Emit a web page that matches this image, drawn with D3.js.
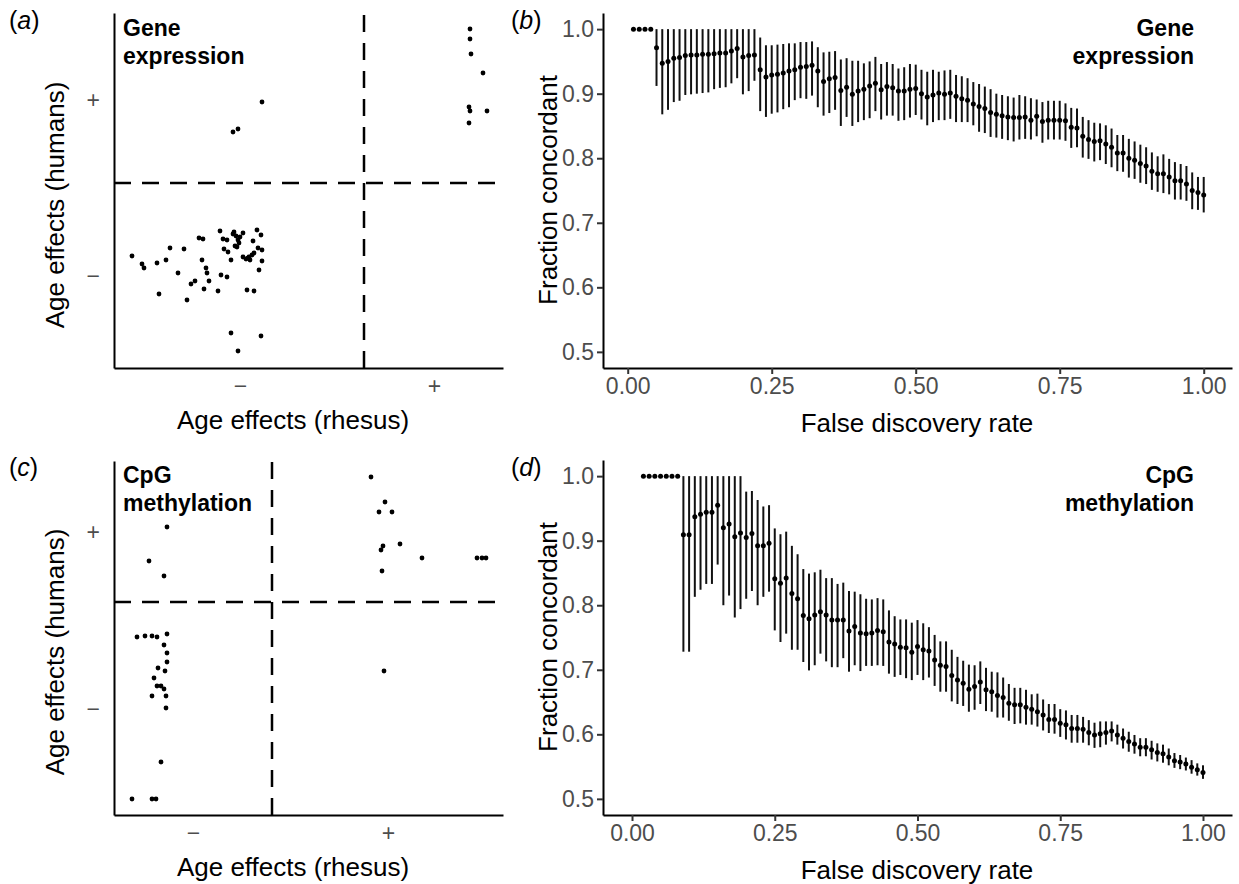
<!DOCTYPE html>
<html>
<head>
<meta charset="utf-8">
<script src="https://cdn.jsdelivr.net/npm/d3@7"></script>
<style>
  body { margin: 0; background: #fff; }
  svg { display: block; font-family: "Liberation Sans", Arial, sans-serif; }
  .tick text { fill: #4d4d4d; font-size: 23px; }
</style>
</head>
<body>
<div id="chart"></div>
<script>
// ---- data ----
var signLabels = ["\u2212", "+"];

// (a) gene expression: age effects in rhesus (x) vs humans (y)
var rhesusA = [1.06, 1.06, 1.07, 1.19, 1.05, 1.06, 1.23, 1.05,
  -1.02, -1.31, -1.26,
  -2.32, -2.22, -2.20, -2.07, -2.05, -1.98, -1.94, -1.86, -1.80, -1.77,
  -1.73, -1.69, -1.65, -1.61, -1.62, -1.60, -1.58, -1.57, -1.55, -1.46,
  -1.44, -1.43, -1.41, -1.40, -1.37, -1.37, -1.36, -1.33, -1.31, -1.29,
  -1.28, -1.27, -1.26, -1.24, -1.21, -1.21, -1.18, -1.17, -1.16, -1.14,
  -1.12, -1.11, -1.10, -1.10, -1.07, -1.06, -1.05, -1.03, -1.02, -1.02,
  -1.33, -1.03, -1.26, -1.25, -1.15, -1.30];
var humansA = [1.54, 1.44, 1.29, 1.10, 0.76, 0.72, 0.72, 0.60,
  0.81, 0.51, 0.54,
  -0.73, -0.81, -0.85, -0.80, -1.11, -0.77, -0.65, -0.90, -0.66, -1.17,
  -1.01, -0.98, -0.55, -0.56, -0.77, -1.06, -0.85, -0.90, -0.98, -1.08,
  -0.48, -0.92, -0.56, -0.66, -0.94, -0.57, -0.69, -0.77, -0.51, -0.63,
  -0.53, -0.64, -0.57, -0.54, -0.50, -0.74, -0.76, -1.07, -0.75, -0.77,
  -0.72, -0.58, -1.08, -0.70, -0.47, -0.65, -0.87, -0.52, -0.67, -0.78,
  -1.50, -1.53, -1.68, -0.60, -0.74, -0.49];
var xTicksA = [-1.24, 0.70];
var yTicksA = [-0.93, 0.83];

// (c) CpG methylation
var rhesusC = [0.99, 1.13, 1.07, 1.20, 1.11, 1.09, 1.28, 1.50, 2.05, 2.10, 2.14, 1.10,
  1.12,
  -1.05, -1.23, -1.08,
  -1.35, -1.27, -1.20, -1.15, -1.05, -1.08, -1.05, -1.05, -1.14, -1.07,
  -1.18, -1.15, -1.11, -1.08, -1.20, -1.06, -1.06, -1.11, -1.40, -1.20, -1.16];
var humansC = [1.25, 1.00, 0.90, 0.90, 0.56, 0.52, 0.58, 0.44, 0.44, 0.44, 0.44, 0.31,
  -0.69,
  0.75, 0.41, 0.26,
  -0.35, -0.34, -0.34, -0.35, -0.32, -0.43, -0.51, -0.60, -0.66, -0.69,
  -0.76, -0.84, -0.84, -0.87, -0.94, -0.94, -1.06, -1.60, -1.97, -1.97, -1.97];
var xTicksC = [-0.79, 1.16];
var yTicksC = [-1.07, 0.70];

// (b) gene expression: fraction concordant by FDR threshold
var fdrB = [0.01, 0.02, 0.03, 0.04, 0.05, 0.06, 0.07, 0.08, 0.09, 0.10,
  0.11, 0.12, 0.13, 0.14, 0.15, 0.16, 0.17, 0.18, 0.19, 0.20,
  0.21, 0.22, 0.23, 0.24, 0.25, 0.26, 0.27, 0.28, 0.29, 0.30,
  0.31, 0.32, 0.33, 0.34, 0.35, 0.36, 0.37, 0.38, 0.39, 0.40,
  0.41, 0.42, 0.43, 0.44, 0.45, 0.46, 0.47, 0.48, 0.49, 0.50,
  0.51, 0.52, 0.53, 0.54, 0.55, 0.56, 0.57, 0.58, 0.59, 0.60,
  0.61, 0.62, 0.63, 0.64, 0.65, 0.66, 0.67, 0.68, 0.69, 0.70,
  0.71, 0.72, 0.73, 0.74, 0.75, 0.76, 0.77, 0.78, 0.79, 0.80,
  0.81, 0.82, 0.83, 0.84, 0.85, 0.86, 0.87, 0.88, 0.89, 0.90,
  0.91, 0.92, 0.93, 0.94, 0.95, 0.96, 0.97, 0.98, 0.99, 1.00];
var fracB = [1.000, 1.000, 1.000, 1.000, 0.971, 0.947, 0.950, 0.955, 0.956, 0.959,
  0.960, 0.960, 0.961, 0.961, 0.962, 0.963, 0.963, 0.966, 0.970, 0.957,
  0.959, 0.960, 0.937, 0.926, 0.929, 0.930, 0.932, 0.935, 0.937, 0.941,
  0.942, 0.944, 0.935, 0.919, 0.923, 0.925, 0.905, 0.910, 0.899, 0.904,
  0.907, 0.912, 0.916, 0.906, 0.911, 0.909, 0.904, 0.904, 0.907, 0.908,
  0.900, 0.895, 0.898, 0.901, 0.899, 0.901, 0.896, 0.892, 0.890, 0.884,
  0.880, 0.877, 0.871, 0.868, 0.866, 0.864, 0.863, 0.863, 0.864, 0.859,
  0.865, 0.857, 0.859, 0.859, 0.859, 0.858, 0.848, 0.847, 0.834, 0.829,
  0.826, 0.827, 0.822, 0.817, 0.808, 0.808, 0.800, 0.797, 0.792, 0.788,
  0.780, 0.776, 0.776, 0.771, 0.765, 0.765, 0.760, 0.750, 0.747, 0.743];
var loB = [1.000, 1.000, 1.000, 1.000, 0.912, 0.868, 0.875, 0.887, 0.889, 0.898,
  0.899, 0.900, 0.901, 0.902, 0.907, 0.909, 0.910, 0.916, 0.924, 0.899,
  0.904, 0.920, 0.873, 0.864, 0.869, 0.871, 0.876, 0.879, 0.890, 0.893,
  0.892, 0.897, 0.879, 0.866, 0.870, 0.875, 0.850, 0.864, 0.850, 0.856,
  0.859, 0.862, 0.873, 0.860, 0.866, 0.866, 0.858, 0.859, 0.863, 0.867,
  0.860, 0.851, 0.856, 0.859, 0.859, 0.861, 0.856, 0.856, 0.856, 0.851,
  0.841, 0.839, 0.833, 0.832, 0.830, 0.828, 0.826, 0.829, 0.830, 0.829,
  0.834, 0.824, 0.829, 0.829, 0.829, 0.827, 0.816, 0.817, 0.801, 0.799,
  0.795, 0.797, 0.791, 0.786, 0.780, 0.779, 0.770, 0.768, 0.762, 0.760,
  0.751, 0.748, 0.746, 0.744, 0.736, 0.736, 0.734, 0.721, 0.720, 0.716];
var hiB = [1.000, 1.000, 1.000, 1.000, 1.000, 1.000, 1.000, 1.000, 1.000, 1.000,
  1.000, 1.000, 1.000, 1.000, 1.000, 1.000, 1.000, 1.000, 1.000, 1.000,
  1.000, 1.000, 0.987, 0.975, 0.975, 0.976, 0.977, 0.978, 0.978, 0.980,
  0.980, 0.981, 0.972, 0.964, 0.965, 0.966, 0.953, 0.955, 0.951, 0.951,
  0.947, 0.950, 0.957, 0.946, 0.949, 0.946, 0.939, 0.941, 0.946, 0.945,
  0.937, 0.934, 0.937, 0.934, 0.936, 0.937, 0.929, 0.927, 0.924, 0.918,
  0.915, 0.911, 0.907, 0.900, 0.898, 0.896, 0.894, 0.898, 0.896, 0.893,
  0.891, 0.887, 0.889, 0.889, 0.889, 0.885, 0.878, 0.877, 0.864, 0.859,
  0.855, 0.854, 0.851, 0.846, 0.836, 0.836, 0.830, 0.826, 0.821, 0.817,
  0.809, 0.803, 0.806, 0.799, 0.794, 0.791, 0.788, 0.778, 0.771, 0.771];

// (d) CpG methylation: fraction concordant by FDR threshold
var fdrD = [0.02, 0.03, 0.04, 0.05, 0.06, 0.07, 0.08, 0.09, 0.10,
  0.11, 0.12, 0.13, 0.14, 0.15, 0.16, 0.17, 0.18, 0.19, 0.20,
  0.21, 0.22, 0.23, 0.24, 0.25, 0.26, 0.27, 0.28, 0.29, 0.30,
  0.31, 0.32, 0.33, 0.34, 0.35, 0.36, 0.37, 0.38, 0.39, 0.40,
  0.41, 0.42, 0.43, 0.44, 0.45, 0.46, 0.47, 0.48, 0.49, 0.50,
  0.51, 0.52, 0.53, 0.54, 0.55, 0.56, 0.57, 0.58, 0.59, 0.60,
  0.61, 0.62, 0.63, 0.64, 0.65, 0.66, 0.67, 0.68, 0.69, 0.70,
  0.71, 0.72, 0.73, 0.74, 0.75, 0.76, 0.77, 0.78, 0.79, 0.80,
  0.81, 0.82, 0.83, 0.84, 0.85, 0.86, 0.87, 0.88, 0.89, 0.90,
  0.91, 0.92, 0.93, 0.94, 0.95, 0.96, 0.97, 0.98, 0.99, 1.00];
var fracD = [1.000, 1.000, 1.000, 1.000, 1.000, 1.000, 1.000, 0.909, 0.909,
  0.937, 0.941, 0.944, 0.944, 0.955, 0.920, 0.926, 0.906, 0.912, 0.905,
  0.911, 0.892, 0.892, 0.896, 0.841, 0.834, 0.842, 0.818, 0.810, 0.784,
  0.779, 0.785, 0.790, 0.785, 0.777, 0.777, 0.777, 0.760, 0.767, 0.757,
  0.756, 0.757, 0.761, 0.759, 0.743, 0.740, 0.735, 0.734, 0.727, 0.736,
  0.731, 0.729, 0.715, 0.707, 0.705, 0.691, 0.684, 0.679, 0.670, 0.674,
  0.681, 0.669, 0.666, 0.660, 0.657, 0.648, 0.646, 0.646, 0.642, 0.639,
  0.635, 0.630, 0.623, 0.623, 0.617, 0.615, 0.609, 0.609, 0.608, 0.603,
  0.599, 0.601, 0.603, 0.605, 0.599, 0.594, 0.589, 0.585, 0.580, 0.580,
  0.576, 0.572, 0.570, 0.565, 0.559, 0.557, 0.554, 0.549, 0.545, 0.541];
var loD = [1.000, 1.000, 1.000, 1.000, 1.000, 1.000, 1.000, 0.728, 0.728,
  0.813, 0.824, 0.833, 0.833, 0.863, 0.800, 0.815, 0.781, 0.794, 0.810,
  0.822, 0.800, 0.813, 0.821, 0.761, 0.743, 0.756, 0.731, 0.731, 0.712,
  0.699, 0.707, 0.725, 0.713, 0.704, 0.704, 0.718, 0.697, 0.707, 0.698,
  0.706, 0.706, 0.707, 0.706, 0.694, 0.689, 0.692, 0.687, 0.684, 0.692,
  0.684, 0.688, 0.675, 0.666, 0.666, 0.651, 0.647, 0.644, 0.635, 0.638,
  0.647, 0.636, 0.635, 0.626, 0.626, 0.621, 0.616, 0.617, 0.615, 0.615,
  0.612, 0.606, 0.602, 0.601, 0.596, 0.592, 0.587, 0.587, 0.587, 0.583,
  0.579, 0.580, 0.584, 0.589, 0.584, 0.578, 0.573, 0.570, 0.566, 0.566,
  0.561, 0.558, 0.556, 0.552, 0.548, 0.546, 0.544, 0.539, 0.536, 0.531];
var hiD = [1.000, 1.000, 1.000, 1.000, 1.000, 1.000, 1.000, 1.000, 1.000,
  1.000, 1.000, 1.000, 1.000, 1.000, 1.000, 1.000, 1.000, 1.000, 0.976,
  0.977, 0.963, 0.953, 0.955, 0.919, 0.910, 0.914, 0.892, 0.879, 0.856,
  0.849, 0.851, 0.855, 0.842, 0.842, 0.833, 0.835, 0.822, 0.821, 0.817,
  0.810, 0.809, 0.811, 0.809, 0.792, 0.783, 0.778, 0.778, 0.773, 0.777,
  0.772, 0.766, 0.754, 0.744, 0.744, 0.731, 0.720, 0.714, 0.708, 0.707,
  0.713, 0.703, 0.697, 0.696, 0.688, 0.678, 0.672, 0.672, 0.669, 0.662,
  0.663, 0.654, 0.647, 0.647, 0.639, 0.637, 0.630, 0.630, 0.627, 0.622,
  0.618, 0.620, 0.620, 0.620, 0.615, 0.609, 0.604, 0.599, 0.594, 0.594,
  0.590, 0.586, 0.584, 0.578, 0.571, 0.568, 0.564, 0.560, 0.555, 0.552];

var fracTicks = [0.5, 0.6, 0.7, 0.8, 0.9, 1.0];
var fdrTicks = [0, 0.25, 0.5, 0.75, 1];

// ---- layout ----
var width = 1239, height = 884;
var svg = d3.select("#chart").append("svg")
  .attr("width", width)
  .attr("height", height);

function styleAxis(g) {
  g.select(".domain").attr("stroke", "#000").attr("stroke-width", 2);
  g.selectAll(".tick line").attr("stroke", "#333").attr("stroke-width", 2);
}

function panelTag(x, y, letter) {
  var t = svg.append("text")
    .attr("x", x).attr("y", y)
    .style("font-size", "25px");
  t.append("tspan").text("(");
  t.append("tspan").style("font-style", "italic").text(letter);
  t.append("tspan").text(")");
}

function panelTitle(x, y, lines, anchor) {
  var t = svg.append("text")
    .attr("text-anchor", anchor)
    .style("font-size", "23px")
    .style("font-weight", "bold");
  lines.forEach(function(s, i) {
    t.append("tspan").attr("x", x).attr("y", y + i * 28).text(s);
  });
}

function axisTitle(x, y, txt, rotate) {
  svg.append("text")
    .attr("transform", "translate(" + x + "," + y + ")" + (rotate ? " rotate(-90)" : ""))
    .attr("text-anchor", "middle")
    .style("font-size", "26px")
    .text(txt);
}

// scatter of age effects with sign quadrants
function drawScatter(box, xDom, yDom, xs, ys, xTicks, yTicks) {
  var x = d3.scaleLinear().domain(xDom).range([box.left, box.right]);
  var y = d3.scaleLinear().domain(yDom).range([box.bottom, box.top]);

  // quadrant lines at zero
  svg.append("line")
    .attr("x1", box.left).attr("x2", box.right)
    .attr("y1", y(0)).attr("y2", y(0))
    .attr("stroke", "#000").attr("stroke-width", 2.5)
    .attr("stroke-dasharray", "17,11");
  svg.append("line")
    .attr("x1", x(0)).attr("x2", x(0))
    .attr("y1", box.bottom).attr("y2", box.top)
    .attr("stroke", "#000").attr("stroke-width", 2.5)
    .attr("stroke-dasharray", "17,11");

  svg.append("g").selectAll("circle")
    .data(xs)
    .join("circle")
    .attr("cx", function(d) { return x(d); })
    .attr("cy", function(d, i) { return y(ys[i]); })
    .attr("r", 2.4)
    .attr("fill", "#000");

  var gx = svg.append("g")
    .attr("transform", "translate(0," + box.bottom + ")")
    .call(d3.axisBottom(x).tickValues(xTicks).tickSize(0).tickSizeOuter(0).tickPadding(10)
      .tickFormat(function(d, i) { return signLabels[i]; }));
  styleAxis(gx);
  var gy = svg.append("g")
    .attr("transform", "translate(" + box.left + ",0)")
    .call(d3.axisLeft(y).tickValues(yTicks).tickSize(0).tickSizeOuter(0).tickPadding(14)
      .tickFormat(function(d, i) { return signLabels[i]; }));
  styleAxis(gy);
}

// fraction concordant with error bars
function drawRate(box, xDom, fdr, frac, lo, hi) {
  var x = d3.scaleLinear().domain(xDom).range([box.left, box.right]);
  var y = d3.scaleLinear().domain([0.475, 1.025]).range([box.bottom, box.top]);

  svg.append("g").selectAll("line")
    .data(fdr)
    .join("line")
    .attr("x1", function(d) { return x(d); })
    .attr("x2", function(d) { return x(d); })
    .attr("y1", function(d, i) { return y(lo[i]); })
    .attr("y2", function(d, i) { return y(hi[i]); })
    .attr("stroke", "#111")
    .attr("stroke-width", 2);

  svg.append("g").selectAll("circle")
    .data(fdr)
    .join("circle")
    .attr("cx", function(d) { return x(d); })
    .attr("cy", function(d, i) { return y(frac[i]); })
    .attr("r", 2.5)
    .attr("fill", "#000");

  var gx = svg.append("g")
    .attr("transform", "translate(0," + box.bottom + ")")
    .call(d3.axisBottom(x).tickValues(fdrTicks).tickSize(6).tickSizeOuter(0).tickPadding(4)
      .tickFormat(d3.format(".2f")));
  styleAxis(gx);
  var gy = svg.append("g")
    .attr("transform", "translate(" + box.left + ",0)")
    .call(d3.axisLeft(y).tickValues(fracTicks).tickSize(6).tickSizeOuter(0).tickPadding(3)
      .tickFormat(d3.format(".1f")));
  styleAxis(gy);
}

var boxA = {left: 114, right: 503, top: 13, bottom: 368};
var boxB = {left: 603, right: 1232, top: 13, bottom: 368};
var boxC = {left: 114, right: 503, top: 461, bottom: 815};
var boxD = {left: 603, right: 1232, top: 460, bottom: 815};

drawScatter(boxA, [-2.50, 1.39], [-1.85, 1.70], rhesusA, humansA, xTicksA, yTicksA);
drawScatter(boxC, [-1.58, 2.31], [-2.13, 1.41], rhesusC, humansC, xTicksC, yTicksC);
drawRate(boxB, [-0.0429, 1.0491], fdrB, fracB, loB, hiB);
drawRate(boxD, [-0.0508, 1.0508], fdrD, fracD, loD, hiD);

// labels
panelTag(9, 29, "a");
panelTag(511, 29, "b");
panelTag(9, 476, "c");
panelTag(511, 476, "d");

panelTitle(123, 36, ["Gene", "expression"], "start");
panelTitle(1194, 36, ["Gene", "expression"], "end");
panelTitle(123, 483, ["CpG", "methylation"], "start");
panelTitle(1194, 483, ["CpG", "methylation"], "end");

axisTitle(64, 205, "Age effects (humans)", true);
axisTitle(64, 652, "Age effects (humans)", true);
axisTitle(293, 429, "Age effects (rhesus)", false);
axisTitle(293, 876, "Age effects (rhesus)", false);
axisTitle(557, 190, "Fraction concordant", true);
axisTitle(557, 637, "Fraction concordant", true);
axisTitle(917, 432, "False discovery rate", false);
axisTitle(917, 879, "False discovery rate", false);
</script>
</body>
</html>
